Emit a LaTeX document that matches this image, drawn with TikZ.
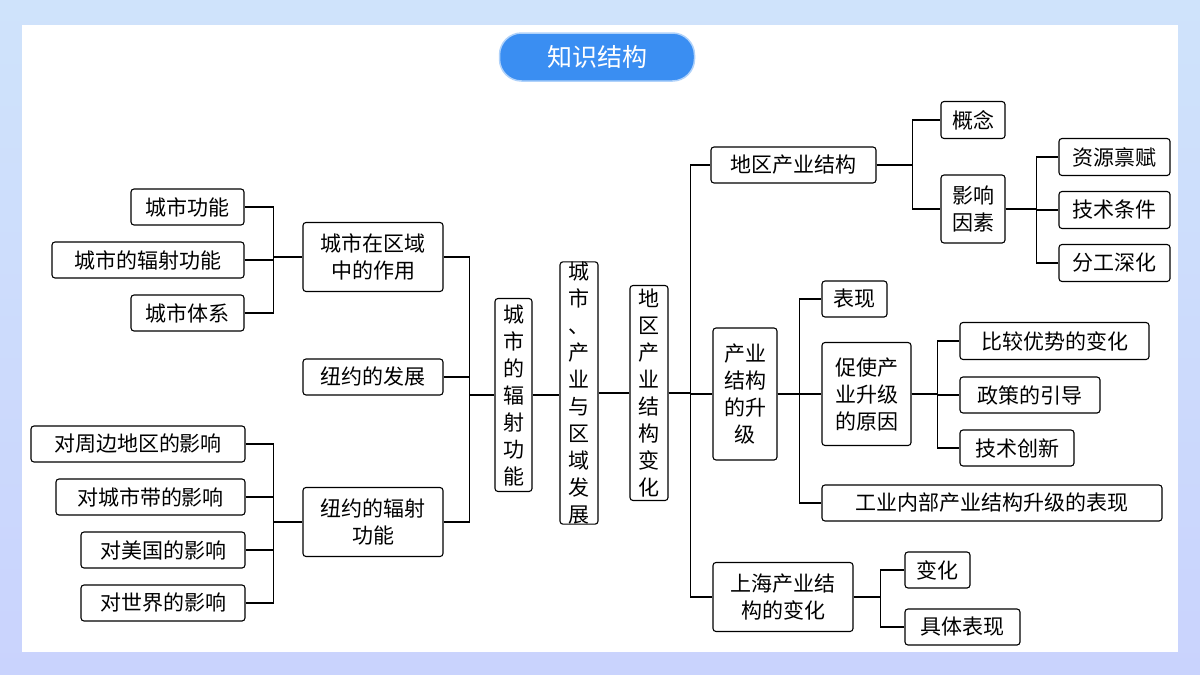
\documentclass[tikz,border=0pt]{standalone}
\usepackage{fontspec}
\setmainfont{Noto Sans CJK SC}
\usetikzlibrary{calc}
\definecolor{bg}{HTML}{CFE3FB}
\definecolor{pill}{HTML}{3A8EF2}
\begin{document}
\begin{tikzpicture}[x=1pt,y=-1pt,
  box/.style={draw=black,line width=1.1pt,rounded corners=3pt,fill=white,inner sep=0pt,align=center,font=\fontsize{21}{27}\selectfont},
  ln/.style={line width=1.1pt}]
\useasboundingbox (0,0) rectangle (1200,675);
\shade[top color=bg,bottom color=bg!80!blue!60] (0,0) rectangle (1200,675);
\fill[white] (22,25) rectangle (1178,652);
\node[fill=pill,draw=pill!40,line width=1.5pt,rounded corners=22pt,minimum width=195,minimum height=48,text=white,font=\fontsize{25}{30}\selectfont] (title) at (597,57) {知识结构};
% left
\node[box,minimum width=113,minimum height=36] (a1) at (187.5,207) {城市功能};
\node[box,minimum width=192,minimum height=36] (a2) at (148,260) {城市的辐射功能};
\node[box,minimum width=113,minimum height=36] (a3) at (187.5,313) {城市体系};
\node[box,minimum width=140,minimum height=69] (b1) at (373,257) {城市在区域\\中的作用};
\node[box,minimum width=140,minimum height=36] (b2) at (373,377) {纽约的发展};
\node[box,minimum width=140,minimum height=69] (b3) at (373,522) {纽约的辐射\\功能};
\node[box,minimum width=214,minimum height=36] (d1) at (138,444) {对周边地区的影响};
\node[box,minimum width=189,minimum height=36] (d2) at (150.5,497) {对城市带的影响};
\node[box,minimum width=164,minimum height=36] (d3) at (163,550) {对美国的影响};
\node[box,minimum width=164,minimum height=36] (d4) at (163,603) {对世界的影响};
\node[box,minimum width=37,minimum height=193] (v1) at (513.5,395) {城\\市\\的\\辐\\射\\功\\能};
\node[box,minimum width=38,minimum height=262] (v2) at (579,393) {城\\市\\、\\产\\业\\与\\区\\域\\发\\展};
\node[box,minimum width=38,minimum height=215] (v3) at (649,393) {地\\区\\产\\业\\结\\构\\变\\化};
% right
\node[box,minimum width=165,minimum height=36] (r1) at (793.5,165) {地区产业结构};
\node[box,minimum width=64,minimum height=132] (r2) at (745,394) {产业\\结构\\的升\\级};
\node[box,minimum width=140,minimum height=69] (r3) at (783,597) {上海产业结\\构的变化};
\node[box,minimum width=64,minimum height=37] (s1) at (973,120) {概念};
\node[box,minimum width=64,minimum height=68] (s2) at (973,209) {影响\\因素};
\node[box,minimum width=111,minimum height=37] (t1) at (1114.5,157) {资源禀赋};
\node[box,minimum width=111,minimum height=37] (t2) at (1114.5,210) {技术条件};
\node[box,minimum width=111,minimum height=37] (t3) at (1114.5,263) {分工深化};
\node[box,minimum width=65,minimum height=36] (u1) at (854.5,299) {表现};
\node[box,minimum width=89,minimum height=103] (u2) at (866.5,394) {促使产\\业升级\\的原因};
\node[box,minimum width=340,minimum height=36] (u3) at (992,503) {工业内部产业结构升级的表现};
\node[box,minimum width=189,minimum height=37] (w1) at (1054.5,341) {比较优势的变化};
\node[box,minimum width=140,minimum height=36] (w2) at (1030,395) {政策的引导};
\node[box,minimum width=114,minimum height=36] (w3) at (1017,448) {技术创新};
\node[box,minimum width=65,minimum height=36] (x1) at (937.5,570) {变化};
\node[box,minimum width=115,minimum height=36] (x2) at (962.5,627) {具体表现};
% connectors left
\foreach \c in {a1,a2,a3} \draw[ln] (\c.east) -| ([xshift=-29]b1.west) -- (b1.west);
\foreach \c in {d1,d2,d3,d4} \draw[ln] (\c.east) -| ([xshift=-29]b3.west) -- (b3.west);
\foreach \c in {b1,b2,b3} \draw[ln] (\c.east) -| ([xshift=-25]v1.west) -- (v1.west);
\draw[ln] (v1.east) -- (v1.east -| v2.west);
\draw[ln] (v2.east) -- (v2.east -| v3.west);
\draw[ln] (v3.east) -- ++(22,0) |- (r1.west);
\draw[ln] (v3.east) -- ++(22,0) |- (r2.west);
\draw[ln] (v3.east) -- ++(22,0) |- (r3.west);
\foreach \c in {s1,s2} \draw[ln] (r1.east) -- ++(36,0) |- (\c.west);
\foreach \c in {t1,t2,t3} \draw[ln] (s2.east) -- ++(31,0) |- (\c.west);
\foreach \c in {u1,u2,u3} \draw[ln] (r2.east) -- ++(22,0) |- (\c.west);
\foreach \c in {w1,w2,w3} \draw[ln] (u2.east) -- ++(26,0) |- (\c.west);
\foreach \c in {x1,x2} \draw[ln] (r3.east) -- ++(27,0) |- (\c.west);
\end{tikzpicture}
\end{document}
